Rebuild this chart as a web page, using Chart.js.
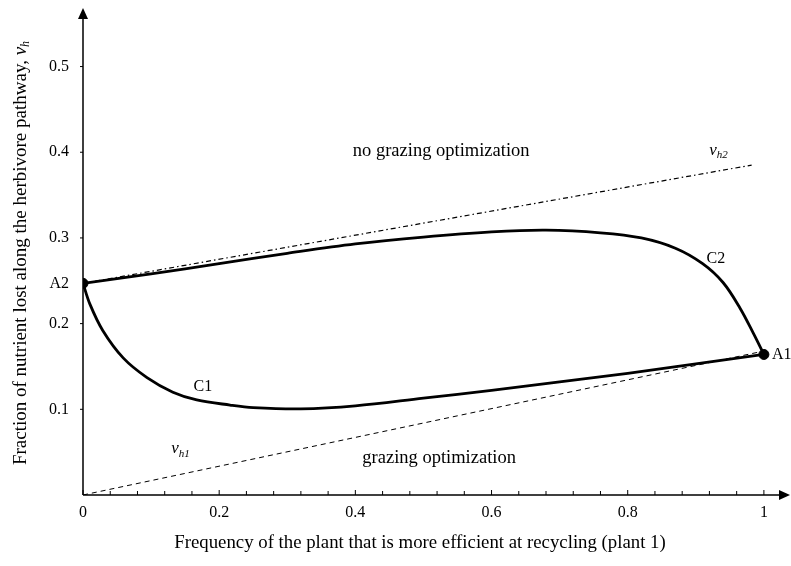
<!DOCTYPE html>
<html><head><meta charset="utf-8">
<script src="https://cdn.jsdelivr.net/npm/chart.js@4.4.1/dist/chart.umd.min.js"></script>
<style>html,body{margin:0;padding:0;background:#fff;}#wrap{width:791px;height:566px;position:relative;}</style>
</head><body><div id="wrap"><canvas id="c"></canvas></div>
<script>
// ---- data ----
const c2X = [0, 0.1, 0.2, 0.3, 0.4, 0.5, 0.6, 0.68, 0.76, 0.82, 0.87, 0.91, 0.94, 0.965, 0.985, 1.0];
const c2Y = [0.247, 0.258, 0.27, 0.282, 0.293, 0.301, 0.307, 0.309, 0.306, 0.300, 0.288, 0.270, 0.248, 0.218, 0.188, 0.164];
const c1X = [0, 0.010, 0.029, 0.059, 0.094, 0.132, 0.167, 0.216, 0.25, 0.32, 0.4, 0.5, 0.6, 0.7, 0.8, 0.9, 1.0];
const c1Y = [0.247, 0.223, 0.192, 0.160, 0.137, 0.120, 0.111, 0.105, 0.102, 0.1005, 0.104, 0.113, 0.122, 0.132, 0.142, 0.153, 0.164];
const vh1X = [0, 1.0];
const vh1Y = [0, 0.168];
const vh2X = [0, 0.982];
const vh2Y = [0.247, 0.385];
const endX = [0, 1];
const endY = [0.247, 0.164];
const xTickLabels = [0, 0.2, 0.4, 0.6, 0.8, 1];
const xMinorTicks = [0.04, 0.08, 0.12, 0.16, 0.24, 0.28, 0.32, 0.36, 0.44, 0.48, 0.52, 0.56, 0.64, 0.68, 0.72, 0.76, 0.84, 0.88, 0.92, 0.96];
const yTickLabels = [0.1, 0.2, 0.3, 0.4, 0.5];

const zip = (xs, ys) => xs.map((x, i) => ({x: x, y: ys[i]}));
const SERIF = '"Liberation Serif", "Times New Roman", serif';

// text annotations (data coordinates)
const notes = [
  {text: 'no grazing optimization', x: 0.526, y: 0.4015, size: 18.5},
  {text: 'grazing optimization', x: 0.523, y: 0.0435, size: 18.5},
  {text: 'C1', x: 0.176, y: 0.1257, size: 16},
  {text: 'C2', x: 0.9295, y: 0.2752, size: 16}
];
const vLabels = [
  {sub: 'h2', x: 0.927, y: 0.402},
  {sub: 'h1', x: 0.137, y: 0.054}
];

function drawSegments(ctx, segs, cx, cy) {
  let total = 0;
  segs.forEach(s => { ctx.font = s.font; s.w = ctx.measureText(s.t).width; total += s.w; });
  let x = cx - total / 2;
  ctx.textAlign = 'left';
  ctx.textBaseline = 'middle';
  segs.forEach(s => { ctx.font = s.font; ctx.fillText(s.t, x, cy + (s.dy || 0)); x += s.w; });
}

function noPad(s) { s.paddingTop = 0; s.paddingBottom = 0; s.paddingLeft = 0; s.paddingRight = 0; }

const decor = {
  id: 'decor',
  afterDraw(chart) {
    const ctx = chart.ctx;
    const xs = chart.scales.x, ys = chart.scales.y;
    const x0 = xs.getPixelForValue(0), y0 = ys.getPixelForValue(0);
    const top = chart.chartArea.top;
    const tipX = chart.width - 1;
    ctx.save();
    ctx.strokeStyle = '#000'; ctx.fillStyle = '#000';
    ctx.lineWidth = 1.5;
    // axes
    ctx.beginPath();
    ctx.moveTo(x0, y0); ctx.lineTo(x0, top + 8);
    ctx.moveTo(x0, y0); ctx.lineTo(tipX - 8, y0);
    ctx.stroke();
    // arrows
    ctx.beginPath();
    ctx.moveTo(x0, top - 2); ctx.lineTo(x0 - 5, top + 9); ctx.lineTo(x0 + 5, top + 9); ctx.closePath(); ctx.fill();
    ctx.beginPath();
    ctx.moveTo(tipX, y0); ctx.lineTo(tipX - 11, y0 - 5); ctx.lineTo(tipX - 11, y0 + 5); ctx.closePath(); ctx.fill();
    // ticks
    ctx.lineWidth = 1;
    ctx.beginPath();
    xTickLabels.forEach(v => { const p = xs.getPixelForValue(v); ctx.moveTo(p, y0); ctx.lineTo(p, y0 - 5); });
    xMinorTicks.forEach(v => { const p = xs.getPixelForValue(v); ctx.moveTo(p, y0); ctx.lineTo(p, y0 - 4); });
    yTickLabels.forEach(v => { const p = ys.getPixelForValue(v); ctx.moveTo(x0, p); ctx.lineTo(x0 - 3, p); });
    ctx.stroke();
    // annotations
    ctx.textBaseline = 'middle';
    notes.forEach(n => {
      ctx.font = n.size + 'px ' + SERIF;
      ctx.textAlign = 'center';
      ctx.fillText(n.text, xs.getPixelForValue(n.x), ys.getPixelForValue(n.y));
    });
    vLabels.forEach(l => {
      const px = xs.getPixelForValue(l.x), py = ys.getPixelForValue(l.y);
      ctx.textAlign = 'left';
      ctx.font = 'italic 17px ' + SERIF;
      ctx.fillText('v', px - 5, py);
      const w = ctx.measureText('v').width;
      ctx.font = 'italic 11px ' + SERIF;
      ctx.fillText(l.sub, px - 5 + w, py + 5);
    });
    // endpoint labels
    ctx.font = '16px ' + SERIF;
    ctx.textAlign = 'right';
    ctx.fillText('A2', xs.getPixelForValue(endX[0]) - 14, ys.getPixelForValue(endY[0]));
    ctx.textAlign = 'left';
    ctx.fillText('A1', xs.getPixelForValue(endX[1]) + 8, ys.getPixelForValue(endY[1]));
    // axis titles
    drawSegments(ctx, [{t: 'Frequency of the plant that is more efficient at recycling (plant 1)', font: '18.8px ' + SERIF}], 420, 543);
    ctx.save();
    ctx.translate(21, 253);
    ctx.rotate(-Math.PI / 2);
    drawSegments(ctx, [
      {t: 'Fraction of nutrient lost along the herbivore pathway, ', font: '19px ' + SERIF},
      {t: 'v', font: 'italic 19px ' + SERIF},
      {t: 'h', font: 'italic 12px ' + SERIF, dy: 5}
    ], 0, 0);
    ctx.restore();
    ctx.restore();
  }
};

const lineDs = (data, extra) => Object.assign({
  data: data, showLine: true, borderColor: '#000', backgroundColor: '#000',
  pointRadius: 0, fill: false
}, extra);

new Chart(document.getElementById('c'), {
  type: 'scatter',
  data: {
    datasets: [
      lineDs(zip(vh1X, vh1Y), {borderWidth: 1, borderDash: [5, 4]}),
      lineDs(zip(vh2X, vh2Y), {borderWidth: 1.2, borderDash: [5, 3, 1.5, 3]}),
      lineDs(zip(c2X, c2Y), {borderWidth: 2.8, tension: 0.35}),
      lineDs(zip(c1X, c1Y), {borderWidth: 2.8, tension: 0.35}),
      {data: zip(endX, endY), showLine: false, pointRadius: 5, pointBackgroundColor: '#000', pointBorderColor: '#000'}
    ]
  },
  options: {
    responsive: true, maintainAspectRatio: false, animation: false,
    layout: {padding: {top: 10, right: 1, left: 0, bottom: 0}},
    plugins: {legend: {display: false}, tooltip: {enabled: false}},
    scales: {
      x: {
        type: 'linear', min: 0, max: 1.031,
        grid: {display: false, drawTicks: false}, border: {display: false},
        afterBuildTicks: s => { s.ticks = xTickLabels.map(v => ({value: v})); },
        afterFit: s => { s.height = 71; noPad(s); },
        ticks: {padding: 8, maxRotation: 0, autoSkip: false, color: '#000',
          font: {family: SERIF, size: 16}, callback: v => String(+(+v).toFixed(2))}
      },
      y: {
        type: 'linear', min: 0, max: 0.566,
        grid: {display: false, drawTicks: false}, border: {display: false},
        afterBuildTicks: s => { s.ticks = yTickLabels.map(v => ({value: v})); },
        afterFit: s => { s.width = 83; noPad(s); },
        ticks: {padding: 14, autoSkip: false, color: '#000',
          font: {family: SERIF, size: 16}, callback: v => (+v).toFixed(1)}
      }
    }
  },
  plugins: [decor]
});
</script></body></html>
